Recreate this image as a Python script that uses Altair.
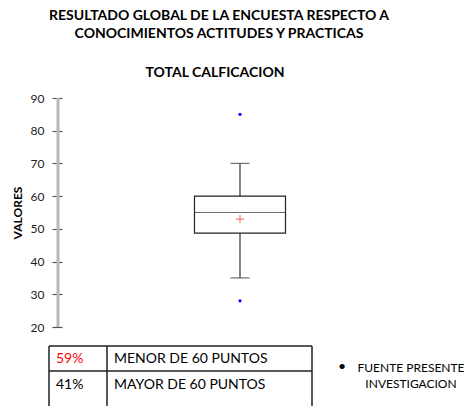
import altair as alt
import pandas as pd

# ---- data ----
category = ["TOTAL CALFICACION"]
q1 = [48.7]
median = [55]
q3 = [60]
lower = [35]
upper = [70]
mean = [53]
outliers = [85, 28]

title_lines = ["RESULTADO GLOBAL DE LA ENCUESTA RESPECTO A",
               "CONOCIMIENTOS ACTITUDES Y PRACTICAS"]
subtitle = "TOTAL CALFICACION"
y_ticks = [20, 30, 40, 50, 60, 70, 80, 90]
pct = ["59%", "41%"]
pct_colors = ["#ff0000", "#000000"]
row_labels = ["MENOR DE 60 PUNTOS", "MAYOR DE 60 PUNTOS"]
source_lines = ["FUENTE PRESENTE", "INVESTIGACION"]

FONT = "Lato"

summary = pd.DataFrame({"cat": category, "q1": q1, "median": median, "q3": q3,
                        "lower": lower, "upper": upper, "mean": mean})
out_df = pd.DataFrame({"cat": category * len(outliers), "v": outliers})

xenc = alt.X("cat:N", axis=None, scale=alt.Scale(paddingInner=0.2, paddingOuter=0.2))
yscale = alt.Scale(domain=[20, 90], nice=False, zero=False)
yaxis = alt.Axis(values=y_ticks, title="VALORES", titleFont=FONT, titleFontSize=12,
                 titleFontWeight="bold", titleColor="black", titlePadding=6,
                 labelFont=FONT, labelFontSize=12, labelColor="#222222",
                 labelOverlap=False,
                 tickColor="#555555", tickSize=10, tickWidth=1.2, domain=False,
                 grid=False, labelPadding=8)

base = alt.Chart(summary)

whisk_lo = base.mark_rule(color="#333333", strokeWidth=1.2).encode(
    x=xenc, y=alt.Y("lower:Q", scale=yscale, axis=yaxis), y2="q1:Q")
domain_line = base.mark_rule(color="#b8b8b8", strokeWidth=3).encode(
    x=alt.value(-4), y=alt.datum(20, scale=yscale, axis=yaxis), y2=alt.datum(90))
whisk_hi = base.mark_rule(color="#333333", strokeWidth=1.2).encode(
    x=xenc, y=alt.Y("q3:Q", axis=yaxis), y2="upper:Q")
box = base.mark_bar(size=91, fill="white", stroke="#222222", strokeWidth=1.2).encode(
    x=xenc, y=alt.Y("q1:Q", axis=yaxis), y2="q3:Q")
med = base.mark_tick(size=91, thickness=1.2, color="#333333").encode(
    x=xenc, y=alt.Y("median:Q", axis=yaxis))
cap_lo = base.mark_tick(size=19, thickness=1.2, color="#333333").encode(
    x=xenc, y=alt.Y("lower:Q", axis=yaxis))
cap_hi = base.mark_tick(size=19, thickness=1.2, color="#333333").encode(
    x=xenc, y=alt.Y("upper:Q", axis=yaxis))
mean_pt = base.mark_point(shape="M-1,0L1,0M0,-1L0,1", size=64, stroke="#ff2020",
                          strokeWidth=1, filled=False).encode(
    x=xenc, y=alt.Y("mean:Q", axis=yaxis))
out_pts = alt.Chart(out_df).mark_circle(size=10, color="#0000ff", opacity=1).encode(
    x=xenc, y=alt.Y("v:Q", axis=yaxis))

# ---- titles (drawn as text above the plot area) ----
texts = []
title_y = [-82, -64]
for i, s in enumerate(title_lines):
    df = pd.DataFrame({"t": [s]})
    texts.append(alt.Chart(df).mark_text(font=FONT, fontSize=14, fontWeight="bold",
                                         align="center", baseline="middle", color="black").encode(
        x=alt.value(157), y=alt.value(title_y[i]), text="t:N"))
sub_df = pd.DataFrame({"t": [subtitle]})
texts.append(alt.Chart(sub_df).mark_text(font=FONT, fontSize=14, fontWeight="bold",
                                         align="center", baseline="middle", color="black").encode(
    x=alt.value(153), y=alt.value(-25), text="t:N"))

# ---- table below the plot ----
TL, TM, TR = -13, 45, 250
ROW_TOP, ROW_MID, ROW_BOT = 248, 273, 330
rule_style = dict(color="#222222", strokeWidth=1.5)
t_rules = [
    base.mark_rule(**rule_style).encode(x=alt.value(TL), x2=alt.value(TR), y=alt.value(ROW_TOP)),
    base.mark_rule(**rule_style).encode(x=alt.value(TL), x2=alt.value(TR), y=alt.value(ROW_MID)),
    base.mark_rule(**rule_style).encode(x=alt.value(TL), y=alt.value(ROW_TOP), y2=alt.value(ROW_BOT)),
    base.mark_rule(**rule_style).encode(x=alt.value(TM), y=alt.value(ROW_TOP), y2=alt.value(ROW_BOT)),
    base.mark_rule(**rule_style).encode(x=alt.value(TR), y=alt.value(ROW_TOP), y2=alt.value(ROW_BOT)),
]
row_y = [261, 287]
for i in range(len(pct)):
    df = pd.DataFrame({"pct": [pct[i]], "lab": [row_labels[i]]})
    texts.append(alt.Chart(df).mark_text(font=FONT, fontSize=14, align="left", baseline="middle",
                                         color=pct_colors[i]).encode(
        x=alt.value(-6), y=alt.value(row_y[i]), text="pct:N"))
    texts.append(alt.Chart(df).mark_text(font=FONT, fontSize=14, align="left", baseline="middle",
                                         color="black").encode(
        x=alt.value(52), y=alt.value(row_y[i]), text="lab:N"))

src_df = pd.DataFrame({"t": ["\u2022"]})
texts.append(alt.Chart(src_df).mark_text(font=FONT, fontSize=14, align="center", baseline="middle",
                                         color="black").encode(
    x=alt.value(280), y=alt.value(269), text="t:N"))
src_y = [270, 286]
for i, s in enumerate(source_lines):
    df = pd.DataFrame({"t": [s]})
    texts.append(alt.Chart(df).mark_text(font=FONT, fontSize=12, align="center", baseline="middle",
                                         color="black").encode(
        x=alt.value(349), y=alt.value(src_y[i]), text="t:N"))

chart = alt.layer(whisk_lo, domain_line, whisk_hi, box, med, cap_lo, cap_hi, mean_pt, out_pts,
                  *t_rules, *texts).properties(
    width=356, height=229,
    autosize=alt.AutoSizeParams(type="none"),
    padding={"left": 54, "top": 90, "right": 50, "bottom": 79},
).configure_view(stroke=None)

chart.save("out.html", embed_options={"renderer": "svg", "actions": False})
